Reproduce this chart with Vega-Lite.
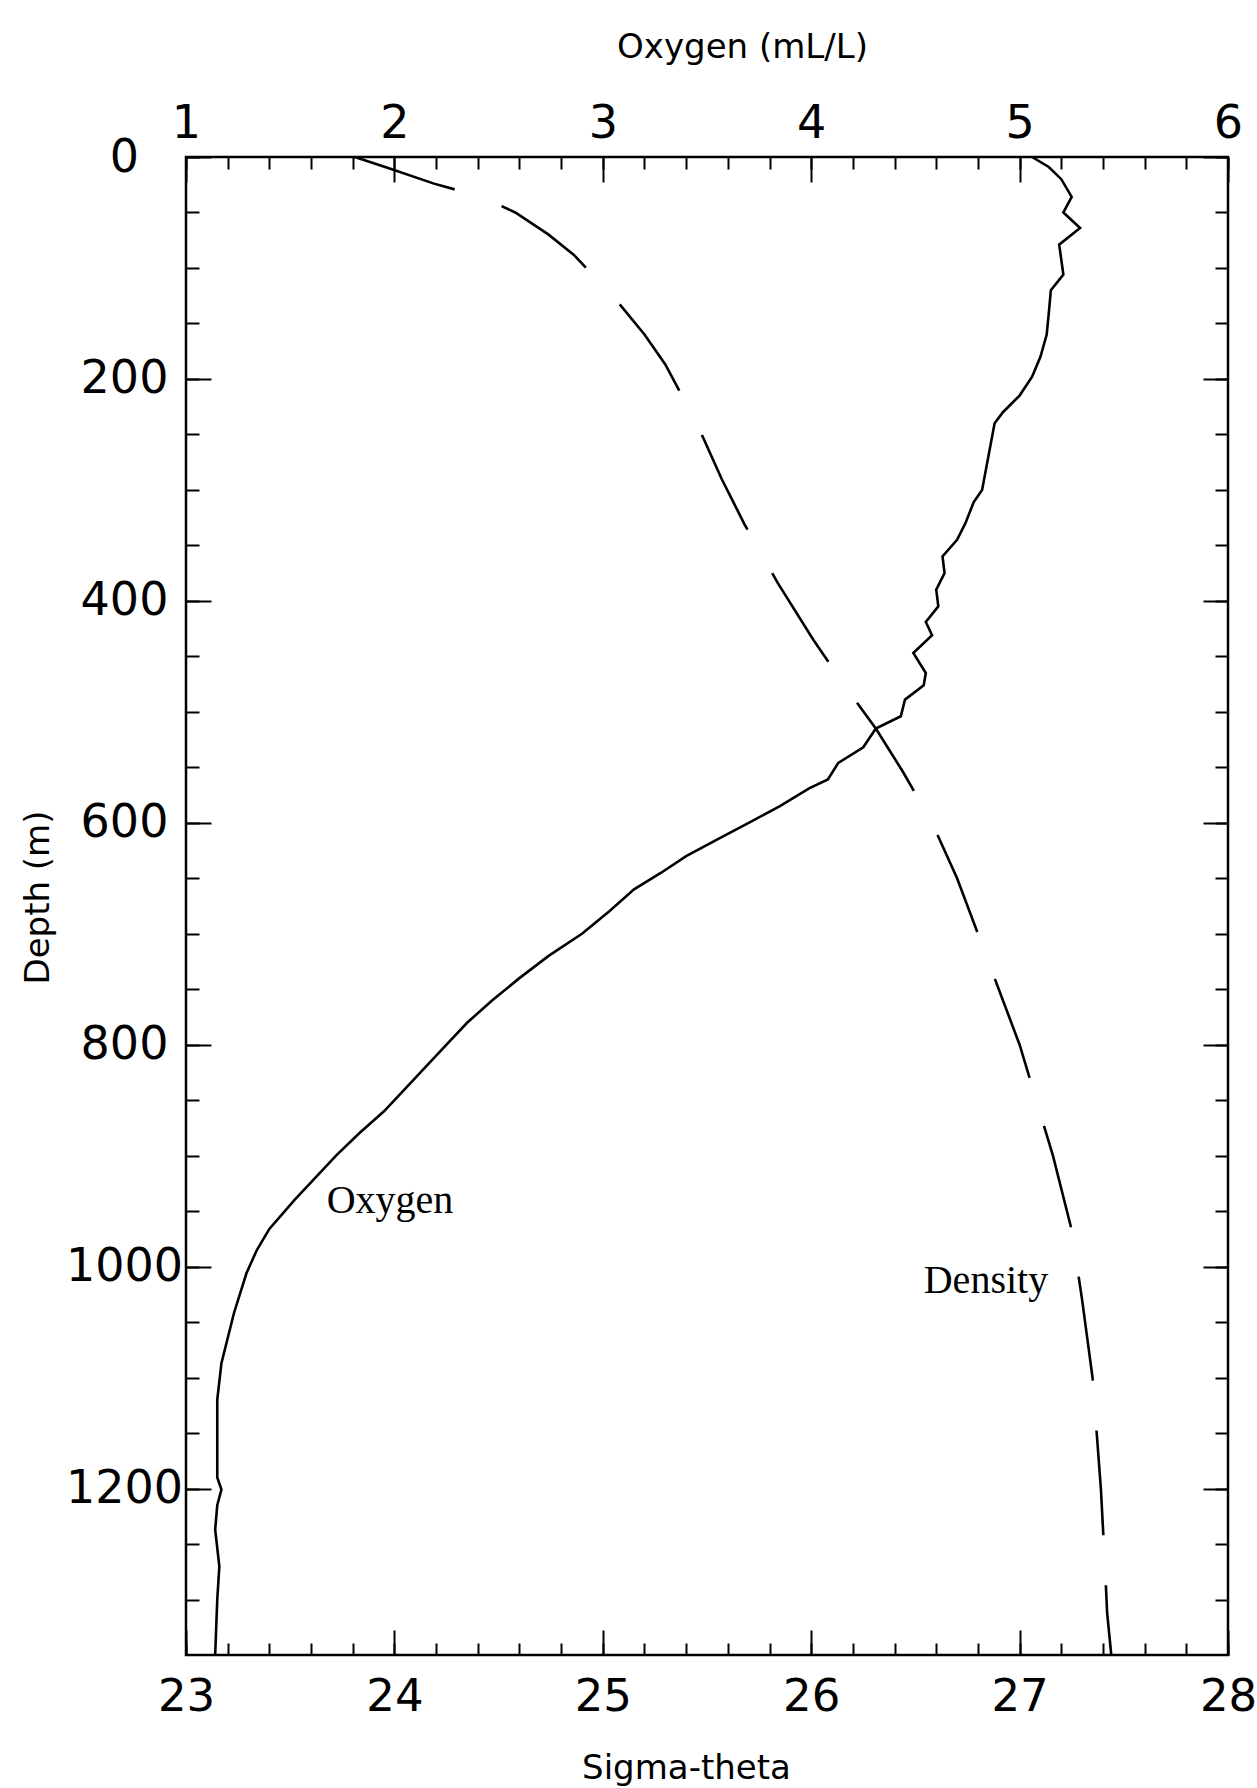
{
"$schema": "https://vega.github.io/schema/vega-lite/v6.json",
"width": 1042,
"height": 1498,
"autosize": {"type": "none"},
"padding": {"left": 186, "top": 157, "right": 29, "bottom": 133},
"background": "white",
"config": {
  "view": {"stroke": "#000", "strokeWidth": 2.5},
  "axis": {"domain": false, "grid": false, "tickColor": "#000", "tickWidth": 2, "labelFont": "DejaVu Sans", "labelFontSize": 46, "labelColor": "#000", "titleFont": "DejaVu Sans", "titleFontSize": 34, "titleFontWeight": "normal", "titleColor": "#000", "labelFlush": false, "labelOverlap": false, "labelBound": false, "format": "d"}
},
"datasets": {
  "oxy": [
    {"depth": 0, "o2": 5.06}, {"depth": 9, "o2": 5.14}, {"depth": 20, "o2": 5.2}, {"depth": 36, "o2": 5.25}, {"depth": 50, "o2": 5.21}, {"depth": 64, "o2": 5.29}, {"depth": 79, "o2": 5.19}, {"depth": 106, "o2": 5.21}, {"depth": 120, "o2": 5.15}, {"depth": 141, "o2": 5.14}, {"depth": 160, "o2": 5.13}, {"depth": 180, "o2": 5.1}, {"depth": 198, "o2": 5.06}, {"depth": 215, "o2": 5.0}, {"depth": 230, "o2": 4.92}, {"depth": 240, "o2": 4.88}, {"depth": 250, "o2": 4.87}, {"depth": 280, "o2": 4.84}, {"depth": 300, "o2": 4.82}, {"depth": 311, "o2": 4.78}, {"depth": 330, "o2": 4.74}, {"depth": 345, "o2": 4.7}, {"depth": 360, "o2": 4.63}, {"depth": 375, "o2": 4.64}, {"depth": 390, "o2": 4.6}, {"depth": 405, "o2": 4.61}, {"depth": 419, "o2": 4.55}, {"depth": 431, "o2": 4.58}, {"depth": 447, "o2": 4.49}, {"depth": 465, "o2": 4.55}, {"depth": 476, "o2": 4.54}, {"depth": 489, "o2": 4.45}, {"depth": 504, "o2": 4.43}, {"depth": 515, "o2": 4.31}, {"depth": 532, "o2": 4.25}, {"depth": 546, "o2": 4.13}, {"depth": 561, "o2": 4.08}, {"depth": 569, "o2": 3.99}, {"depth": 585, "o2": 3.85}, {"depth": 600, "o2": 3.7}, {"depth": 615, "o2": 3.55}, {"depth": 630, "o2": 3.4}, {"depth": 645, "o2": 3.28}, {"depth": 660, "o2": 3.15}, {"depth": 680, "o2": 3.03}, {"depth": 700, "o2": 2.9}, {"depth": 720, "o2": 2.74}, {"depth": 740, "o2": 2.6}, {"depth": 760, "o2": 2.47}, {"depth": 780, "o2": 2.35}, {"depth": 800, "o2": 2.25}, {"depth": 820, "o2": 2.15}, {"depth": 840, "o2": 2.05}, {"depth": 860, "o2": 1.95}, {"depth": 880, "o2": 1.83}, {"depth": 900, "o2": 1.72}, {"depth": 920, "o2": 1.62}, {"depth": 940, "o2": 1.52}, {"depth": 966, "o2": 1.4}, {"depth": 985, "o2": 1.34}, {"depth": 1006, "o2": 1.29}, {"depth": 1042, "o2": 1.23}, {"depth": 1087, "o2": 1.17}, {"depth": 1120, "o2": 1.15}, {"depth": 1160, "o2": 1.15}, {"depth": 1190, "o2": 1.15}, {"depth": 1201, "o2": 1.17}, {"depth": 1215, "o2": 1.15}, {"depth": 1237, "o2": 1.14}, {"depth": 1270, "o2": 1.16}, {"depth": 1300, "o2": 1.15}, {"depth": 1350, "o2": 1.14}
  ],
  "dens": [
    {"depth": 0, "sigma": 23.81}, {"depth": 10, "sigma": 23.97}, {"depth": 24, "sigma": 24.19}, {"depth": 36, "sigma": 24.42}, {"depth": 50, "sigma": 24.58}, {"depth": 70, "sigma": 24.74}, {"depth": 88, "sigma": 24.86}, {"depth": 110, "sigma": 24.97}, {"depth": 128, "sigma": 25.06}, {"depth": 160, "sigma": 25.2}, {"depth": 187, "sigma": 25.3}, {"depth": 215, "sigma": 25.38}, {"depth": 244, "sigma": 25.46}, {"depth": 290, "sigma": 25.57}, {"depth": 331, "sigma": 25.68}, {"depth": 384, "sigma": 25.84}, {"depth": 435, "sigma": 26.01}, {"depth": 479, "sigma": 26.17}, {"depth": 515, "sigma": 26.31}, {"depth": 554, "sigma": 26.44}, {"depth": 600, "sigma": 26.58}, {"depth": 650, "sigma": 26.7}, {"depth": 700, "sigma": 26.8}, {"depth": 750, "sigma": 26.9}, {"depth": 800, "sigma": 27.0}, {"depth": 850, "sigma": 27.08}, {"depth": 900, "sigma": 27.16}, {"depth": 967, "sigma": 27.25}, {"depth": 1030, "sigma": 27.3}, {"depth": 1100, "sigma": 27.35}, {"depth": 1200, "sigma": 27.39}, {"depth": 1271, "sigma": 27.41}, {"depth": 1312, "sigma": 27.42}, {"depth": 1350, "sigma": 27.44}
  ],
  "oxylabel": [{"o2": 1.675, "depth": 952, "txt": "Oxygen"}],
  "denslabel": [{"sigma": 26.54, "depth": 1024, "txt": "Density"}]
},
"layer": [
  {
    "layer": [
      {
        "data": {"name": "oxy"},
        "mark": {"type": "line", "color": "#000", "strokeWidth": 2.6},
        "encoding": {
          "x": {"field": "o2", "type": "quantitative", "scale": {"domain": [1, 6], "nice": false, "zero": false},
                "axis": {"orient": "top", "values": [1, 2, 3, 4, 5, 6], "tickSize": -25, "labelPadding": 35, "title": "Oxygen (mL/L)", "titleX": 556, "titleY": -100, "titleAlign": "center", "titleBaseline": "alphabetic", "titleAngle": 0}},
          "y": {"field": "depth", "type": "quantitative", "scale": {"domain": [0, 1350], "reverse": true, "nice": false, "zero": false},
                "axis": {"orient": "left", "values": [0, 200, 400, 600, 800, 1000, 1200], "tickSize": -25, "labelPadding": 87, "labelAlign": "center", "title": "Depth (m)", "titleX": -138, "titleY": 740, "titleAngle": -90, "titleAlign": "center", "titleBaseline": "alphabetic"}},
          "order": {"field": "depth", "type": "quantitative"}
        }
      },
      {
        "data": {"name": "oxy"},
        "mark": {"type": "line", "opacity": 0},
        "encoding": {
          "x": {"field": "o2", "type": "quantitative",
                "axis": {"orient": "top", "values": [1, 1.2, 1.4, 1.6, 1.8, 2, 2.2, 2.4, 2.6, 2.8, 3, 3.2, 3.4, 3.6, 3.8, 4, 4.2, 4.4, 4.6, 4.8, 5, 5.2, 5.4, 5.6, 5.8, 6], "tickSize": -12, "labels": false, "title": null}},
          "y": {"field": "depth", "type": "quantitative",
                "axis": {"orient": "left", "values": [0, 50, 100, 150, 200, 250, 300, 350, 400, 450, 500, 550, 600, 650, 700, 750, 800, 850, 900, 950, 1000, 1050, 1100, 1150, 1200, 1250, 1300], "tickSize": -13, "labels": false, "title": null}},
          "order": {"field": "depth", "type": "quantitative"}
        }
      },
      {
        "data": {"name": "oxylabel"},
        "mark": {"type": "text", "font": "Liberation Serif", "fontSize": 40, "align": "left", "baseline": "alphabetic", "color": "#000"},
        "encoding": {
          "x": {"field": "o2", "type": "quantitative", "axis": null},
          "y": {"field": "depth", "type": "quantitative", "axis": null},
          "text": {"field": "txt"}
        }
      }
    ],
    "resolve": {"axis": {"x": "independent", "y": "independent"}}
  },
  {
    "layer": [
      {
        "data": {"name": "dens"},
        "mark": {"type": "line", "color": "#000", "strokeWidth": 2.6, "strokeDash": [105, 50]},
        "encoding": {
          "x": {"field": "sigma", "type": "quantitative", "scale": {"domain": [23, 28], "nice": false, "zero": false},
                "axis": {"orient": "bottom", "values": [23, 24, 25, 26, 27, 28], "tickSize": -25, "labelPadding": 44, "labelFontSize": 45, "title": "Sigma-theta", "titleX": 500, "titleY": 123, "titleAlign": "center", "titleBaseline": "alphabetic", "titleAngle": 0}},
          "y": {"field": "depth", "type": "quantitative",
                "axis": {"orient": "right", "values": [0, 200, 400, 600, 800, 1000, 1200], "tickSize": -25, "labels": false, "title": null}},
          "order": {"field": "depth", "type": "quantitative"}
        }
      },
      {
        "data": {"name": "dens"},
        "mark": {"type": "line", "opacity": 0},
        "encoding": {
          "x": {"field": "sigma", "type": "quantitative",
                "axis": {"orient": "bottom", "values": [23, 23.2, 23.4, 23.6, 23.8, 24, 24.2, 24.4, 24.6, 24.8, 25, 25.2, 25.4, 25.6, 25.8, 26, 26.2, 26.4, 26.6, 26.8, 27, 27.2, 27.4, 27.6, 27.8, 28], "tickSize": -12, "labels": false, "title": null}},
          "y": {"field": "depth", "type": "quantitative",
                "axis": {"orient": "right", "values": [0, 50, 100, 150, 200, 250, 300, 350, 400, 450, 500, 550, 600, 650, 700, 750, 800, 850, 900, 950, 1000, 1050, 1100, 1150, 1200, 1250, 1300], "tickSize": -13, "labels": false, "title": null}},
          "order": {"field": "depth", "type": "quantitative"}
        }
      },
      {
        "data": {"name": "denslabel"},
        "mark": {"type": "text", "font": "Liberation Serif", "fontSize": 40, "align": "left", "baseline": "alphabetic", "color": "#000"},
        "encoding": {
          "x": {"field": "sigma", "type": "quantitative", "axis": null},
          "y": {"field": "depth", "type": "quantitative", "axis": null},
          "text": {"field": "txt"}
        }
      }
    ],
    "resolve": {"axis": {"x": "independent", "y": "independent"}}
  }
],
"resolve": {"scale": {"x": "independent"}, "axis": {"x": "independent", "y": "independent"}}
}
